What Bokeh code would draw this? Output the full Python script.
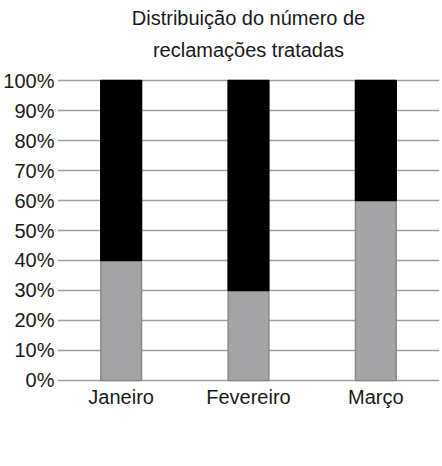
from bokeh.plotting import figure
from bokeh.models import (FactorRange, Range1d, FixedTicker, PrintfTickFormatter,
                          Legend, LegendItem, Title)
from bokeh.embed import file_html
from bokeh.resources import INLINE

months = ["Janeiro", "Fevereiro", "Março"]
series = ["Rafaela", "Edvaldo"]
rafaela = [40, 30, 60]
edvaldo = [60, 70, 40]
y_ticks = [0, 10, 20, 30, 40, 50, 60, 70, 80, 90, 100]
title_lines = ["Distribuição do número de", "reclamações tratadas"]

FONT = "Liberation Sans"
TXT = "#1a1a1a"

p = figure(width=442, height=466, frame_width=382, frame_height=304,
           output_backend="svg", toolbar_location=None,
           x_range=FactorRange(*months, range_padding=0),
           y_range=Range1d(-0.67, 100.67),
           min_border_top=78, min_border_bottom=84, min_border_right=6,
           min_border_left=54, outline_line_color=None)

p.add_layout(Title(text=title_lines[1], align="center", text_font=FONT,
                   text_font_size="20px", text_font_style="normal",
                   text_color=TXT, standoff=36), "above")
p.add_layout(Title(text=title_lines[0], align="center", text_font=FONT,
                   text_font_size="20px", text_font_style="normal",
                   text_color=TXT, standoff=-20), "above")

src = dict(month=months, Rafaela=rafaela, Edvaldo=edvaldo)
rs = p.vbar_stack(series, x="month", width=0.32, source=src,
                  fill_color=["#a4a4a7", "#000000"],
                  line_color=["#8a8a8a", "#000000"], line_width=1.5)

p.xgrid.grid_line_color = None
p.ygrid.grid_line_color = "#a0a0a0"
p.ygrid.grid_line_width = 1.5
p.ygrid.ticker = FixedTicker(ticks=y_ticks)

p.yaxis.ticker = FixedTicker(ticks=y_ticks)
p.yaxis.formatter = PrintfTickFormatter(format="%d%%")
for ax in (p.xaxis, p.yaxis):
    ax.axis_line_color = None
    ax.major_tick_line_color = None
    ax.minor_tick_line_color = None
    ax.major_tick_out = 0
    ax.major_tick_in = 0
    ax.minor_tick_out = 0
    ax.major_label_text_font = FONT
    ax.major_label_text_font_size = "20px"
    ax.major_label_text_color = TXT
p.yaxis.major_label_standoff = 3
p.xaxis.major_label_standoff = 3

legend = Legend(items=[LegendItem(label=s, renderers=[r]) for s, r in zip(series, rs)],
                orientation="horizontal", location="top_center",
                glyph_width=21, glyph_height=21, label_standoff=12, spacing=38,
                padding=0, margin=18, border_line_color=None,
                background_fill_alpha=0, label_text_font=FONT,
                label_text_font_size="19px", label_text_color=TXT,
                label_height=21)
p.add_layout(legend, "below")

open("out.html", "w").write(file_html(p, INLINE))
